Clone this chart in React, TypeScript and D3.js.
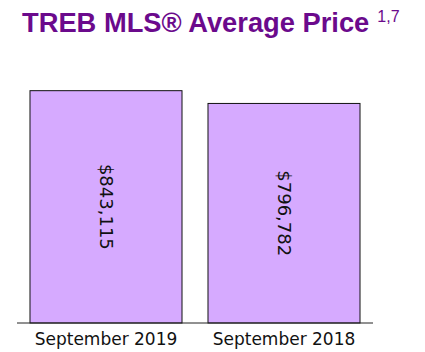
import React from "react";
import { scaleBand, scaleLinear, format } from "d3";

const width = 425;
const height = 352;

const periods = ["September 2019", "September 2018"];
const avgPrices = [843115, 796782];
const titleText = "TREB MLS® Average Price";
const noteText = "1,7";

const margin = { top: 75, bottom: 29, left: 17, right: 52 };
const baseY = height - margin.bottom;

const App = () => {
    const xScale = scaleBand<string>()
        .domain(periods)
        .range([margin.left, width - margin.right])
        .paddingInner(0.146)
        .paddingOuter(0.073);
    const yScale = scaleLinear()
        .domain([0, 900000])
        .range([baseY, margin.top]);
    const money = (v: number) => "$" + format(",")(v);

    return (
        <svg
            width={width}
            height={height}
            style={{ position: "absolute", left: 0, top: 0, background: "#fff" }}
        >
            <text
                x={22}
                y={32}
                fontFamily="Liberation Sans, Arial, sans-serif"
                fontWeight="bold"
                fontSize={27.3}
                fill="#6b0a8c"
            >
                {titleText}
                <tspan dx={8} dy={-10} fontWeight="normal" fontSize={16}>
                    {noteText}
                </tspan>
            </text>
            {periods.map((p, i) => {
                const x = xScale(p)!;
                const y = yScale(avgPrices[i]);
                const cx = x + xScale.bandwidth() / 2;
                const cy = (y + baseY) / 2;
                return (
                    <g key={p}>
                        <rect
                            x={x}
                            y={y}
                            width={xScale.bandwidth()}
                            height={baseY - y}
                            fill="#d6aaff"
                            stroke="#111"
                            strokeWidth={1}
                        />
                        <text
                            transform={`translate(${cx},${cy}) rotate(90)`}
                            textAnchor="middle"
                            dominantBaseline="central"
                            fontFamily="DejaVu Sans, sans-serif"
                            fontSize={18}
                            fill="#111"
                        >
                            {money(avgPrices[i])}
                        </text>
                        <text
                            x={cx}
                            y={345}
                            textAnchor="middle"
                            fontFamily="DejaVu Sans, sans-serif"
                            fontSize={17}
                            fill="#111"
                        >
                            {p}
                        </text>
                    </g>
                );
            })}
            <line
                x1={margin.left}
                x2={width - margin.right}
                y1={baseY}
                y2={baseY}
                stroke="#222"
                strokeWidth={1}
            />
        </svg>
    );
};

export default App;
